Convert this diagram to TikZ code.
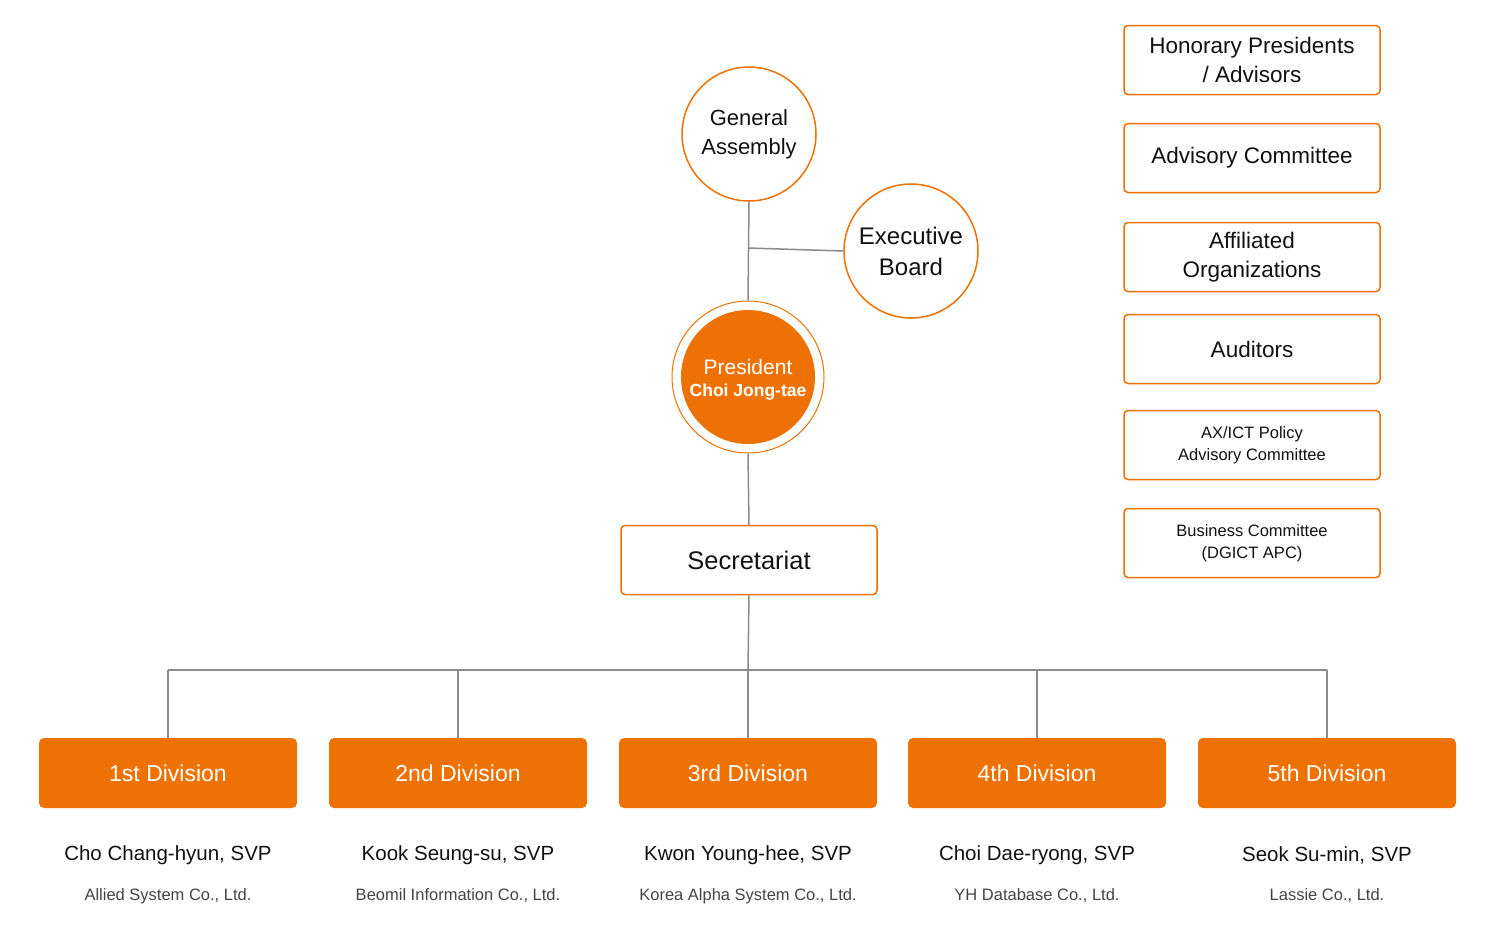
\documentclass[tikz,border=0pt]{standalone}
\usepackage{fontspec}
\setmainfont{Liberation Sans}
\definecolor{og}{HTML}{EE7203}
\definecolor{ln}{HTML}{8A8A8A}
\definecolor{tx}{HTML}{111111}
\definecolor{sub}{HTML}{444444}
\begin{document}
\begin{tikzpicture}[x=1pt,y=-1pt,
  conn/.style={draw=ln,line width=1.5pt},
  circ/.style={circle,draw=og,line width=1.5pt,minimum size=134pt,inner sep=0pt,align=center,text=tx,font=\fontsize{22}{29}\selectfont},
  rbox/.style={draw=og,line width=1.5pt,rounded corners=4pt,minimum width=256pt,minimum height=69pt,align=center,text=tx,font=\fontsize{22.5}{29}\selectfont},
  sbox/.style={rbox,font=\fontsize{16.5}{22}\selectfont},
  div/.style={fill=og,rounded corners=5pt,minimum width=258pt,minimum height=70pt,text=white,font=\fontsize{23}{27}\selectfont},
  nm/.style={text=tx,font=\fontsize{20.5}{24}\selectfont},
  co/.style={text=sub,font=\fontsize{16.5}{20}\selectfont}]
\useasboundingbox (0,0) rectangle (1497,938);
\node[circ] (ga) at (749,134) {General\\Assembly};
\node[circ,font=\fontsize{24}{31}\selectfont] (eb) at (911,251) {Executive\\Board};
\node[circle,draw=og,line width=1pt,minimum size=152pt,inner sep=0pt] (pro) at (748,377) {};
\node[circle,fill=og,minimum size=134pt,inner sep=0pt] (pr) at (748,377) {};
\node[text=white,align=center,font=\fontsize{21}{25}\selectfont] (prt) at (748,380) {President\\[-3pt]\fontsize{17.5}{21}\selectfont\bfseries Choi Jong-tae};
\node[rbox,font=\fontsize{25.5}{30}\selectfont] (sec) at (749,560) {Secretariat};
\coordinate (j) at (748,248);
\draw[conn] (ga.south) -- (pro.north);
\draw[conn] (j) -- (eb.west);
\draw[conn] (pro.south) -- (sec.north);
\coordinate (bus) at (748,670);
\draw[conn] (sec.south) -- (bus);
\foreach \i/\x/\t/\n/\c in {1/168/1st/{Cho Chang-hyun}/{Allied System Co., Ltd.},
  2/458/2nd/{Kook Seung-su}/{Beomil Information Co., Ltd.},
  3/748/3rd/{Kwon Young-hee}/{Korea Alpha System Co., Ltd.},
  4/1037/4th/{Choi Dae-ryong}/{YH Database Co., Ltd.},
  5/1327/5th/{Seok Su-min}/{Lassie Co., Ltd.}}{
  \node[div] (d\i) at (\x,773) {\t\ Division};
  \node[nm] (n\i) at (\x,855) {\n, SVP};
  \node[co] (c\i) at (\x,896) {\c};
  \coordinate (t\i) at (\x,670);
}
\draw[conn] (t1) -- (t5);
\foreach \i in {1,...,5}{\draw[conn] (t\i) -- (d\i.north);}
\node[rbox] (r1) at (1252,60) {Honorary Presidents\\/ Advisors};
\node[rbox] (r2) at (1252,158) {Advisory Committee};
\node[rbox] (r3) at (1252,257) {Affiliated\\Organizations};
\node[rbox] (r4) at (1252,349) {Auditors};
\node[sbox] (r5) at (1252,445) {AX/ICT Policy\\Advisory Committee};
\node[sbox] (r6) at (1252,543) {Business Committee\\(DGICT APC)};
\end{tikzpicture}
\end{document}
